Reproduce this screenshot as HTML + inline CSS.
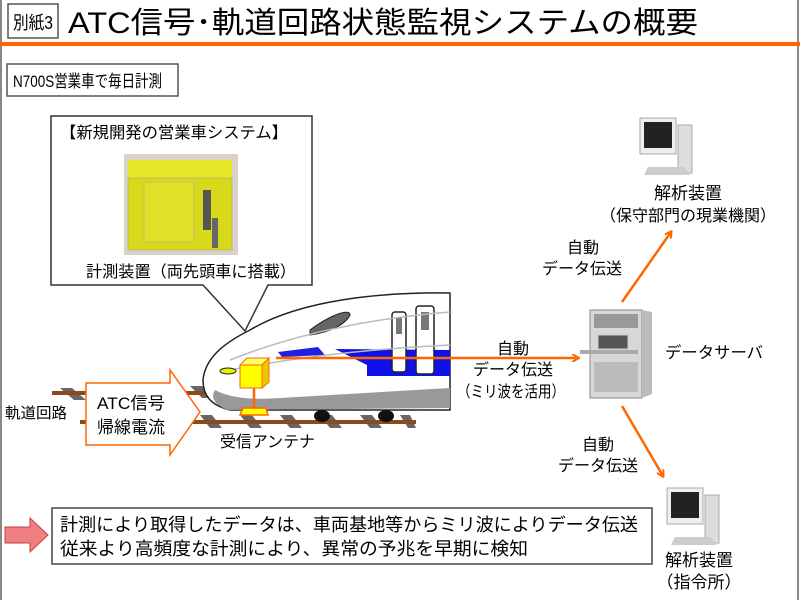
<!DOCTYPE html>
<html><head><meta charset="utf-8"><style>
body{margin:0;width:800px;height:600px;overflow:hidden;background:#fff;}
svg text{font-family:"Liberation Sans","Noto Sans CJK JP",sans-serif;fill:#000;}
</style></head><body>
<svg width="800" height="600" viewBox="0 0 800 600" xmlns="http://www.w3.org/2000/svg">
<rect x="0" y="0" width="800" height="600" fill="#fff"/>
<line x1="1" y1="0" x2="1" y2="600" stroke="#888" stroke-width="2"/>
<line x1="798" y1="0" x2="798" y2="600" stroke="#888" stroke-width="2"/>
<!-- title -->
<rect x="8" y="4" width="50" height="34" fill="#fff" stroke="#555" stroke-width="1.5"/>
<text x="13" y="29" font-size="18" textLength="40" lengthAdjust="spacingAndGlyphs">別紙3</text>
<text x="68" y="33" font-size="30" textLength="630" lengthAdjust="spacingAndGlyphs">ATC信号･軌道回路状態監視システムの概要</text>
<rect x="0" y="42" width="800" height="4" fill="#ff6600"/>
<rect x="7" y="64" width="171" height="32" fill="#fff" stroke="#555" stroke-width="1.5"/>
<text x="13" y="87" font-size="17" textLength="149" lengthAdjust="spacingAndGlyphs">N700S営業車で毎日計測</text>
<!-- callout -->
<path d="M51 116 H312 V285 H268 L245 331 L203 285 H51 Z" fill="#fff" stroke="#333" stroke-width="1.5"/>
<text x="60" y="138" font-size="16" textLength="228" lengthAdjust="spacingAndGlyphs">【新規開発の営業車システム】</text>
<rect x="124" y="154" width="114" height="101" fill="#d8d2c8"/>
<rect x="128" y="160" width="104" height="18" fill="#e6e62a"/>
<rect x="128" y="178" width="104" height="72" fill="#d9d91c" stroke="#999" stroke-width="0.5"/>
<rect x="144" y="182" width="50" height="60" fill="#e0e028" stroke="#aaa" stroke-width="0.5"/>
<rect x="203" y="190" width="8" height="40" fill="#555"/>
<rect x="212" y="218" width="6" height="30" fill="#666"/>
<text x="86" y="277" font-size="16" textLength="210" lengthAdjust="spacingAndGlyphs">計測装置（両先頭車に搭載）</text>
<!-- rails -->
<g fill="#666">
<polygon points="60,388 72,388 86,400 74,400"/><polygon points="190,386 202,386 214,398 202,398"/>
<polygon points="200,415 212,415 222,428 210,428"/><polygon points="240,415 252,415 262,428 250,428"/>
<polygon points="280,415 292,415 302,428 290,428"/><polygon points="320,415 332,415 342,428 330,428"/>
<polygon points="360,415 372,415 382,428 370,428"/><polygon points="400,415 410,415 416,428 408,428"/>
</g>
<line x1="52" y1="393" x2="215" y2="393" stroke="#8b4a1e" stroke-width="4"/>
<line x1="80" y1="422" x2="416" y2="422" stroke="#8b4a1e" stroke-width="4"/>
<!-- train -->
<path d="M450 293 C380 292 300 300 250 330 C220 345 205 360 203 380 C203 395 210 405 230 410 L450 410 Z" fill="#fff" stroke="#222" stroke-width="1.5"/>
<path d="M215 390 C230 398 250 400 280 398 L450 388 L450 408 L228 410 C215 405 210 398 215 390 Z" fill="#999"/>
<path d="M310 330 C330 315 350 308 350 315 C345 325 330 332 310 335 Z" fill="#666" stroke="#222"/>
<polygon points="278,352 318,347 325,355 282,357" fill="#2020e0"/>
<polygon points="335,349 450,350 450,376 367,376 367,365" fill="#1010e8"/>
<rect x="392" y="312" width="14" height="60" rx="3" fill="#fff" stroke="#222" stroke-width="1.5"/>
<rect x="416" y="306" width="18" height="68" rx="3" fill="#fff" stroke="#222" stroke-width="1.5"/>
<rect x="396" y="318" width="6" height="16" fill="#777"/><rect x="421" y="312" width="8" height="18" fill="#777"/>
<path d="M230 360 C280 340 350 320 450 312" fill="none" stroke="#bbb" stroke-width="1.5"/>
<path d="M220 372 C280 360 350 350 450 345" fill="none" stroke="#bbb" stroke-width="1.5"/>
<ellipse cx="322" cy="416" rx="8" ry="6" fill="#111"/><ellipse cx="386" cy="416" rx="8" ry="6" fill="#111"/>
<ellipse cx="228" cy="371" rx="8" ry="3" fill="#ee0" stroke="#222"/>
<!-- antenna box -->
<polygon points="240,365 262,365 269,358 247,358" fill="#ffff66" stroke="#ff6600"/>
<polygon points="262,365 269,358 269,382 262,388" fill="#e8c800" stroke="#ff6600"/>
<rect x="240" y="365" width="22" height="23" fill="#ffff00" stroke="#ff6600"/>
<line x1="254" y1="388" x2="254" y2="408" stroke="#ff6600" stroke-width="2.5"/>
<polygon points="243,408 266,408 268,415 240,415" fill="#ffff00" stroke="#ff6600" stroke-width="1.5"/>
<!-- ATC arrow -->
<polygon points="86,383 170,383 170,370 200,412 170,455 170,445 86,445" fill="#fff" stroke="#ff6600" stroke-width="1.5"/>
<text x="97" y="409" font-size="17" textLength="68" lengthAdjust="spacingAndGlyphs">ATC信号</text>
<text x="97" y="433" font-size="17" textLength="68" lengthAdjust="spacingAndGlyphs">帰線電流</text>
<text x="5" y="418" font-size="15" textLength="62" lengthAdjust="spacingAndGlyphs">軌道回路</text>
<text x="220" y="447" font-size="16" textLength="95" lengthAdjust="spacingAndGlyphs">受信アンテナ</text>
<!-- arrows -->
<defs><marker id="a" markerWidth="8" markerHeight="8" refX="6" refY="4" orient="auto" markerUnits="userSpaceOnUse" viewBox="0 0 8 8"><path d="M0 0 L7 4 L0 8" fill="none" stroke="#ff6600" stroke-width="2"/></marker></defs>
<line x1="276" y1="358" x2="578" y2="358" stroke="#ff6600" stroke-width="2.5" marker-end="url(#a)"/>
<line x1="622" y1="302" x2="671" y2="232" stroke="#ff6600" stroke-width="2.5" marker-end="url(#a)"/>
<line x1="622" y1="406" x2="663" y2="476" stroke="#ff6600" stroke-width="2.5" marker-end="url(#a)"/>
<text x="513" y="354" font-size="16" text-anchor="middle">自動</text>
<text x="513" y="375" font-size="16" text-anchor="middle">データ伝送</text>
<text x="511" y="397" font-size="16" text-anchor="middle" textLength="108" lengthAdjust="spacingAndGlyphs">（ミリ波を活用）</text>
<text x="583" y="253" font-size="16" text-anchor="middle">自動</text>
<text x="582" y="274" font-size="16" text-anchor="middle">データ伝送</text>
<text x="598" y="450" font-size="16" text-anchor="middle">自動</text>
<text x="598" y="471" font-size="16" text-anchor="middle">データ伝送</text>
<!-- server -->
<rect x="590" y="310" width="52" height="88" fill="#d8d8d8" stroke="#888"/>
<polygon points="642,310 652,312 652,394 642,398" fill="#bbb"/>
<rect x="594" y="314" width="44" height="14" fill="#999"/>
<rect x="598" y="335" width="30" height="14" fill="#555" stroke="#ccc"/>
<rect x="580" y="350" width="58" height="4" fill="#aaa"/>
<rect x="594" y="362" width="44" height="30" fill="#bbb"/>
<text x="665" y="358" font-size="16" textLength="98" lengthAdjust="spacingAndGlyphs">データサーバ</text>
<!-- computers -->
<g transform="translate(640,115)">
<rect x="0" y="3" width="36" height="36" fill="#eee" stroke="#aaa"/>
<rect x="4" y="7" width="28" height="26" fill="#222"/>
<rect x="38" y="10" width="14" height="48" fill="#ddd" stroke="#aaa"/>
<polygon points="8,52 44,52 50,60 4,60" fill="#ccc"/>
</g>
<text x="688" y="199" font-size="17" text-anchor="middle">解析装置</text>
<text x="688" y="221" font-size="16" text-anchor="middle" textLength="176" lengthAdjust="spacingAndGlyphs">（保守部門の現業機関）</text>
<g transform="translate(667,485)">
<rect x="0" y="3" width="36" height="36" fill="#eee" stroke="#aaa"/>
<rect x="4" y="7" width="28" height="26" fill="#222"/>
<rect x="38" y="10" width="14" height="48" fill="#ddd" stroke="#aaa"/>
<polygon points="8,52 44,52 50,60 4,60" fill="#ccc"/>
</g>
<text x="699" y="566" font-size="17" text-anchor="middle">解析装置</text>
<text x="699" y="588" font-size="17" text-anchor="middle">（指令所）</text>
<!-- bottom -->
<polygon points="5,527 30,527 30,518 48,535 30,552 30,543 5,543" fill="#f08080" stroke="#c04040"/>
<rect x="52" y="508" width="600" height="56" fill="#fff" stroke="#444" stroke-width="1.5"/>
<text x="60" y="531" font-size="18" textLength="578" lengthAdjust="spacingAndGlyphs">計測により取得したデータは、車両基地等からミリ波によりデータ伝送</text>
<text x="60" y="555" font-size="18" textLength="468" lengthAdjust="spacingAndGlyphs">従来より高頻度な計測により、異常の予兆を早期に検知</text>
</svg>
</body></html>
